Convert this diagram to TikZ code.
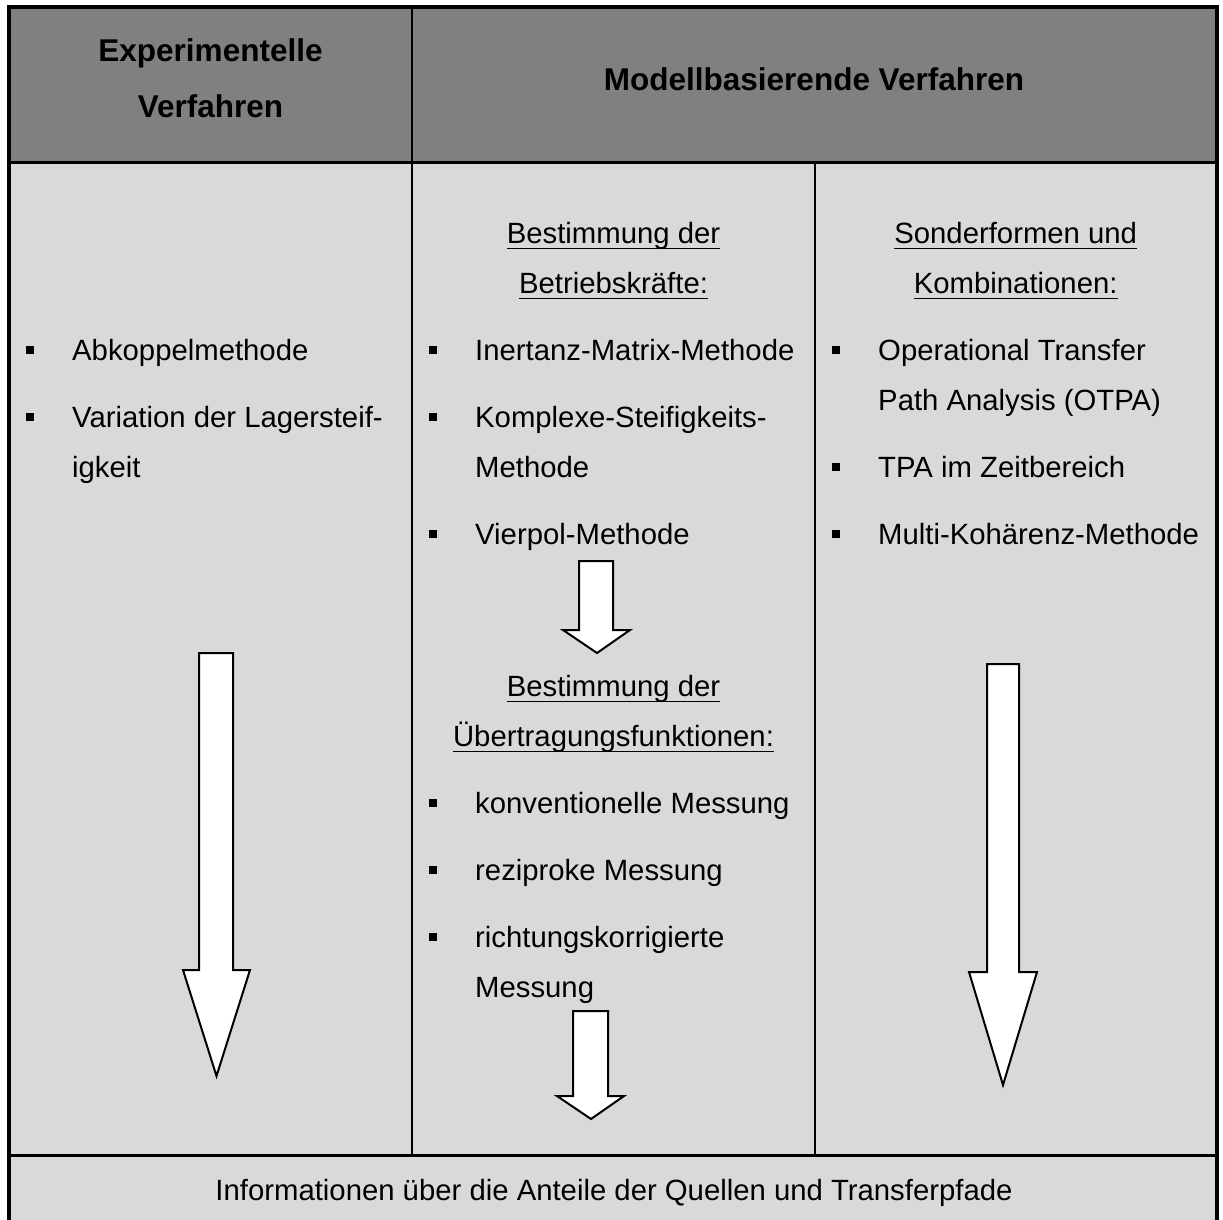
\documentclass[tikz,border=0pt]{standalone}
\usepackage{fontspec}
\setmainfont{Liberation Sans}
\newcommand\bodyfont{\fontsize{29.3}{50}\selectfont}
\newcommand\headfont{\fontsize{31.5}{55}\selectfont\bfseries}
\definecolor{headgray}{HTML}{808080}
\definecolor{bodygray}{HTML}{D9D9D9}

\begin{document}
\begin{tikzpicture}[x=1pt,y=-1pt,
  frame/.style={line width=4pt,line join=miter},
  rulethick/.style={line width=3pt},
  rulethin/.style={line width=2.2pt},
  txt/.style={anchor=base west,inner sep=0pt,font=\bodyfont},
  ctxt/.style={anchor=base,inner sep=0pt,font=\bodyfont},
  head/.style={anchor=base,inner sep=0pt,font=\headfont},
  bul/.style={fill=black,minimum size=8pt,inner sep=0pt,outer sep=0pt},
  underl/.style={line width=1.8pt},
  bigarrow/.style={fill=white,draw=black,line width=2pt,line join=miter}]

\useasboundingbox (0,0) rectangle (1223,1220);
\clip (0,0) rectangle (1223,1220);

% table background
\fill[bodygray] (9,162.5) rectangle (1216.5,1230);
\fill[headgray] (9,7.5) rectangle (1216.5,162.5);

% table rules
\draw[rulethick] (9,162.5) -- (1216.5,162.5);
\draw[rulethin] (412,7.5) -- (412,1155.3);
\draw[rulethin] (815,162.5) -- (815,1155.3);
\draw[line width=2.7pt] (9,1155.3) -- (1216.5,1155.3);
\draw[frame] (9,1230) -- (9,7.5) -- (1216.5,7.5) -- (1216.5,1230);

% header
\node[head] (h1a) at (210.5,62) {Experimentelle};
\node[head] (h1b) at (210.5,118) {Verfahren};
\node[head] (h2) at (814,91) {Modellbasierende Verfahren};

% column 1
\node[bul] (b11) at (30,350) {};
\node[txt] (t11) at (72,360) {Abkoppelmethode};
\node[bul] (b12) at (30,417) {};
\node[txt] (t12) at (72,427) {Variation der Lagersteif-};
\node[txt] (t12b) at (72,477) {igkeit};
\draw[bigarrow] (199,653) -- (233,653) -- (233,970) -- (250,970) -- (216.5,1076)
  -- (183,970) -- (199,970) -- cycle;

% column 2
\node[ctxt] (s21) at (613.5,243) {Bestimmung der};
\node[ctxt] (s21b) at (613.5,293) {Betriebskräfte:};
\node[bul] (b21) at (433,350) {};
\node[txt] (t21) at (475,360) {Inertanz-Matrix-Methode};
\node[bul] (b22) at (433,417) {};
\node[txt] (t22) at (475,427) {Komplexe-Steifigkeits-};
\node[txt] (t22b) at (475,477) {Methode};
\node[bul] (b23) at (433,534) {};
\node[txt] (t23) at (475,544) {Vierpol-Methode};
\draw[bigarrow] (579,561) -- (613,561) -- (613,630) -- (630,630) -- (597,653)
  -- (563,630) -- (579,630) -- cycle;
\node[ctxt] (s22) at (613.5,696) {Bestimmung der};
\node[ctxt] (s22b) at (613.5,746) {Übertragungsfunktionen:};
\node[bul] (b24) at (433,803) {};
\node[txt] (t24) at (475,813) {konventionelle Messung};
\node[bul] (b25) at (433,870) {};
\node[txt] (t25) at (475,880) {reziproke Messung};
\node[bul] (b26) at (433,937) {};
\node[txt] (t26) at (475,947) {richtungskorrigierte};
\node[txt] (t26b) at (475,997) {Messung};
\draw[bigarrow] (573,1011) -- (608,1011) -- (608,1096) -- (624,1096) -- (591,1119)
  -- (557,1096) -- (573,1096) -- cycle;

% column 3
\node[ctxt] (s31) at (1015.7,243) {Sonderformen und};
\node[ctxt] (s31b) at (1015.7,293) {Kombinationen:};
\node[bul] (b31) at (836,350) {};
\node[txt] (t31) at (878,360) {Operational Transfer};
\node[txt] (t31b) at (878,410) {Path Analysis (OTPA)};
\node[bul] (b32) at (836,467) {};
\node[txt] (t32) at (878,477) {TPA im Zeitbereich};
\node[bul] (b33) at (836,534) {};
\node[txt] (t33) at (878,544) {Multi-Kohärenz-Methode};
\draw[bigarrow] (987,664) -- (1019,664) -- (1019,972) -- (1037,972) -- (1003,1085)
  -- (969,972) -- (987,972) -- cycle;

% underlined sub-headings
\foreach \n in {s21,s21b,s22,s22b,s31,s31b}
  \draw[underl] ([yshift=-5.5pt]\n.base west) -- ([yshift=-5.5pt]\n.base east);

% result row
\node[ctxt] (res) at (614,1200) {Informationen über die Anteile der Quellen und Transferpfade};
\end{tikzpicture}
\end{document}
